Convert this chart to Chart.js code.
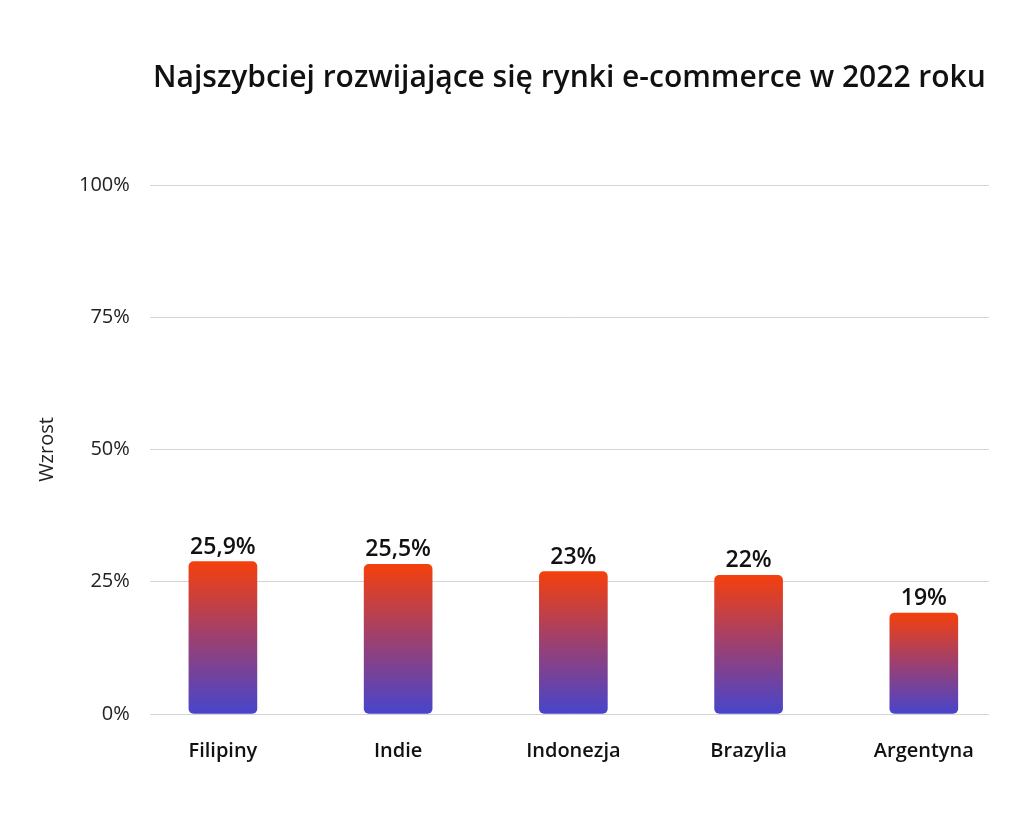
<!DOCTYPE html>
<html lang="pl">
<head>
<meta charset="utf-8">
<title>Najszybciej rozwijające się rynki e-commerce w 2022 roku</title>
<script src="https://cdn.jsdelivr.net/npm/chart.js@4.4.1/dist/chart.umd.min.js"></script>
<style>
  html, body { margin: 0; padding: 0; background: #fff; }
  #wrap { width: 1024px; height: 830px; }
</style>
</head>
<body>
<div id="wrap"><canvas id="myChart"></canvas></div>
<script>
const countries = ['Filipiny', 'Indie', 'Indonezja', 'Brazylia', 'Argentyna']
// bar heights as drawn in the picture (in % of the axis)
const barValues = [28.8, 28.3, 26.9, 26.2, 19.1]
// value labels printed above the bars
const barLabels = ['25,9%', '25,5%', '23%', '22%', '19%']
const yTicks = [0, 25, 50, 75, 100]

const FONT = "'Open Sans', 'Noto Sans', sans-serif"

const barLabelPlugin = {
    id: 'barLabels',
    afterDatasetsDraw(chart) {
        const ctx = chart.ctx
        const meta = chart.getDatasetMeta(0)
        ctx.save()
        ctx.font = "600 23px " + FONT
        ctx.fillStyle = '#111'
        ctx.textAlign = 'center'
        ctx.textBaseline = 'alphabetic'
        meta.data.forEach((bar, i) => {
            ctx.fillText(barLabels[i], bar.x, bar.y - 8)
        })
        ctx.restore()
    }
}

const barGradient = (context) => {
    const chart = context.chart
    if (!chart.chartArea) return '#f2400f'
    const y = chart.scales.y
    const top = y.getPixelForValue(barValues[context.dataIndex])
    const bottom = y.getPixelForValue(0)
    const g = chart.ctx.createLinearGradient(0, top, 0, bottom)
    g.addColorStop(0, '#f4400c')
    g.addColorStop(0.5, '#9c4070')
    g.addColorStop(1, '#4745cb')
    return g
}

const ctx = document.getElementById('myChart').getContext('2d')

new Chart(ctx, {
    type: 'bar',
    data: {
        datasets: [{
            label: 'Wzrost',
            data: barValues.map((v, i) => ({ x: i, y: v })),
            backgroundColor: barGradient,
            borderRadius: 5,
            borderSkipped: false,
            barThickness: 68
        }]
    },
    options: {
        responsive: true,
        maintainAspectRatio: false,
        animation: false,
        layout: {
            padding: { top: 60, right: 35, bottom: 50, left: 13 }
        },
        plugins: {
            legend: { display: false },
            tooltip: { enabled: false },
            title: {
                display: true,
                fullSize: false,
                text: 'Najszybciej rozwijające się rynki e-commerce w 2022 roku',
                color: '#111',
                font: { family: FONT, size: 30, weight: '600' },
                padding: { top: 0, bottom: 89 }
            }
        },
        scales: {
            x: {
                type: 'linear',
                offset: false,
                min: -0.417,
                max: 4.372,
                afterBuildTicks: (scale) => {
                    scale.ticks = countries.map((_, i) => ({ value: i }))
                },
                grid: { display: false },
                border: { display: false },
                ticks: {
                    padding: 17,
                    color: '#111',
                    font: { family: FONT, size: 20, weight: '600' },
                    callback: (value) => countries[value]
                }
            },
            y: {
                min: 0,
                max: 100,
                afterBuildTicks: (scale) => {
                    scale.ticks = yTicks.map(v => ({ value: v }))
                },
                grid: { color: '#d4d4d4', lineWidth: 1, drawTicks: false },
                border: { display: false },
                title: {
                    display: true,
                    text: 'Wzrost',
                    color: '#222',
                    font: { family: FONT, size: 20 },
                    padding: { top: 22, bottom: 0 }
                },
                ticks: {
                    padding: 20,
                    color: '#222',
                    font: { family: FONT, size: 20 },
                    callback: (value) => value + '%'
                }
            }
        }
    },
    plugins: [barLabelPlugin]
})
</script>
</body>
</html>
